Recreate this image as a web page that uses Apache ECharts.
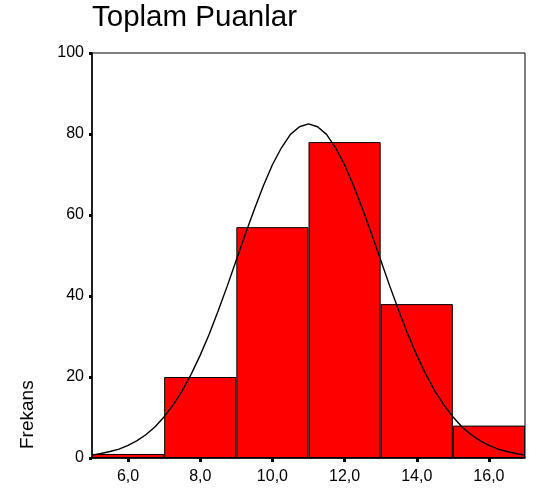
<!DOCTYPE html>
<html>
<head>
<meta charset="utf-8">
<script src="https://cdn.jsdelivr.net/npm/echarts@6/dist/echarts.min.js"></script>
<style>html,body{margin:0;padding:0;background:#fff}#c{width:536px;height:492px}</style>
</head>
<body>
<div id="c"></div>
<script>
// Histogram bins (midpoint labels) and frequencies
var binLabels = ['6,0', '8,0', '10,0', '12,0', '14,0', '16,0'];
var frequencies = [1, 20, 57, 78, 38, 8];
// Fitted normal curve
var curveX = [5, 5.25, 5.5, 5.75, 6, 6.25, 6.5, 6.75, 7, 7.25, 7.5, 7.75, 8, 8.25, 8.5, 8.75, 9, 9.25, 9.5, 9.75, 10, 10.25, 10.5, 10.75, 11,
              11.25, 11.5, 11.75, 12, 12.25, 12.5, 12.75, 13, 13.25, 13.5, 13.75, 14, 14.25, 14.5, 14.75, 15, 15.25, 15.5, 15.75, 16, 16.25, 16.5, 16.75, 17];
var curveY = [0.7, 1.1, 1.6, 2.2, 3.1, 4.3, 5.8, 7.7, 10.2, 13.1, 16.6, 20.7, 25.4, 30.6, 36.4, 42.5, 48.9, 55.3, 61.4, 67.2, 72.4, 76.6, 79.9, 81.8, 82.5,
              81.8, 79.9, 76.6, 72.4, 67.2, 61.4, 55.3, 48.9, 42.5, 36.4, 30.6, 25.4, 20.7, 16.6, 13.1, 10.2, 7.7, 5.8, 4.3, 3.1, 2.2, 1.6, 1.1, 0.7];
var yTicks = [0, 20, 40, 60, 80, 100];

var curveData = curveX.map(function (x, i) { return [x, curveY[i]]; });

var chart = echarts.init(document.getElementById('c'), null, {renderer: 'canvas'});
chart.setOption({
  animation: false,
  backgroundColor: '#fff',
  title: {
    text: 'Toplam Puanlar',
    left: 92, top: 3, padding: 0,
    textStyle: {fontFamily: 'Liberation Sans, Arial, sans-serif', fontSize: 29.5, fontWeight: 'normal', color: '#000'}
  },
  graphic: [{
    type: 'text',
    x: 37, y: 449,
    rotation: Math.PI / 2,
    style: {
      text: 'Frekans',
      font: '19px "Liberation Sans", Arial, sans-serif',
      fill: '#000',
      textAlign: 'left',
      textVerticalAlign: 'bottom'
    }
  }],
  grid: {
    left: 92, right: 11, top: 53, bottom: 34,
    show: true, borderColor: '#000', borderWidth: 1, backgroundColor: 'transparent'
  },
  xAxis: [{
    type: 'category',
    data: binLabels,
    boundaryGap: true,
    axisLine: {show: true, lineStyle: {color: '#000', width: 1.5}},
    axisTick: {show: true, alignWithLabel: true, length: 4, lineStyle: {color: '#000', width: 3}},
    axisLabel: {color: '#000', fontSize: 16, fontFamily: 'Liberation Sans, Arial, sans-serif', margin: 11},
    splitLine: {show: false}
  }, {
    type: 'value',
    min: 5, max: 17,
    show: false
  }],
  yAxis: {
    type: 'value',
    min: 0, max: 100, interval: 20,
    axisLine: {show: true, lineStyle: {color: '#000', width: 1.5}},
    axisTick: {show: true, length: 3, lineStyle: {color: '#000', width: 3}},
    axisLabel: {color: '#000', fontSize: 16, fontFamily: 'Liberation Sans, Arial, sans-serif', margin: 8},
    splitLine: {show: false}
  },
  series: [{
    type: 'bar',
    xAxisIndex: 0,
    data: frequencies,
    barCategoryGap: '0%',
    itemStyle: {color: '#ff0000', borderColor: '#000', borderWidth: 1},
    z: 2
  }, {
    type: 'line',
    xAxisIndex: 1,
    data: curveData,
    smooth: false,
    symbol: 'none',
    lineStyle: {color: '#000', width: 1.4},
    z: 3
  }]
});
</script>
</body>
</html>
